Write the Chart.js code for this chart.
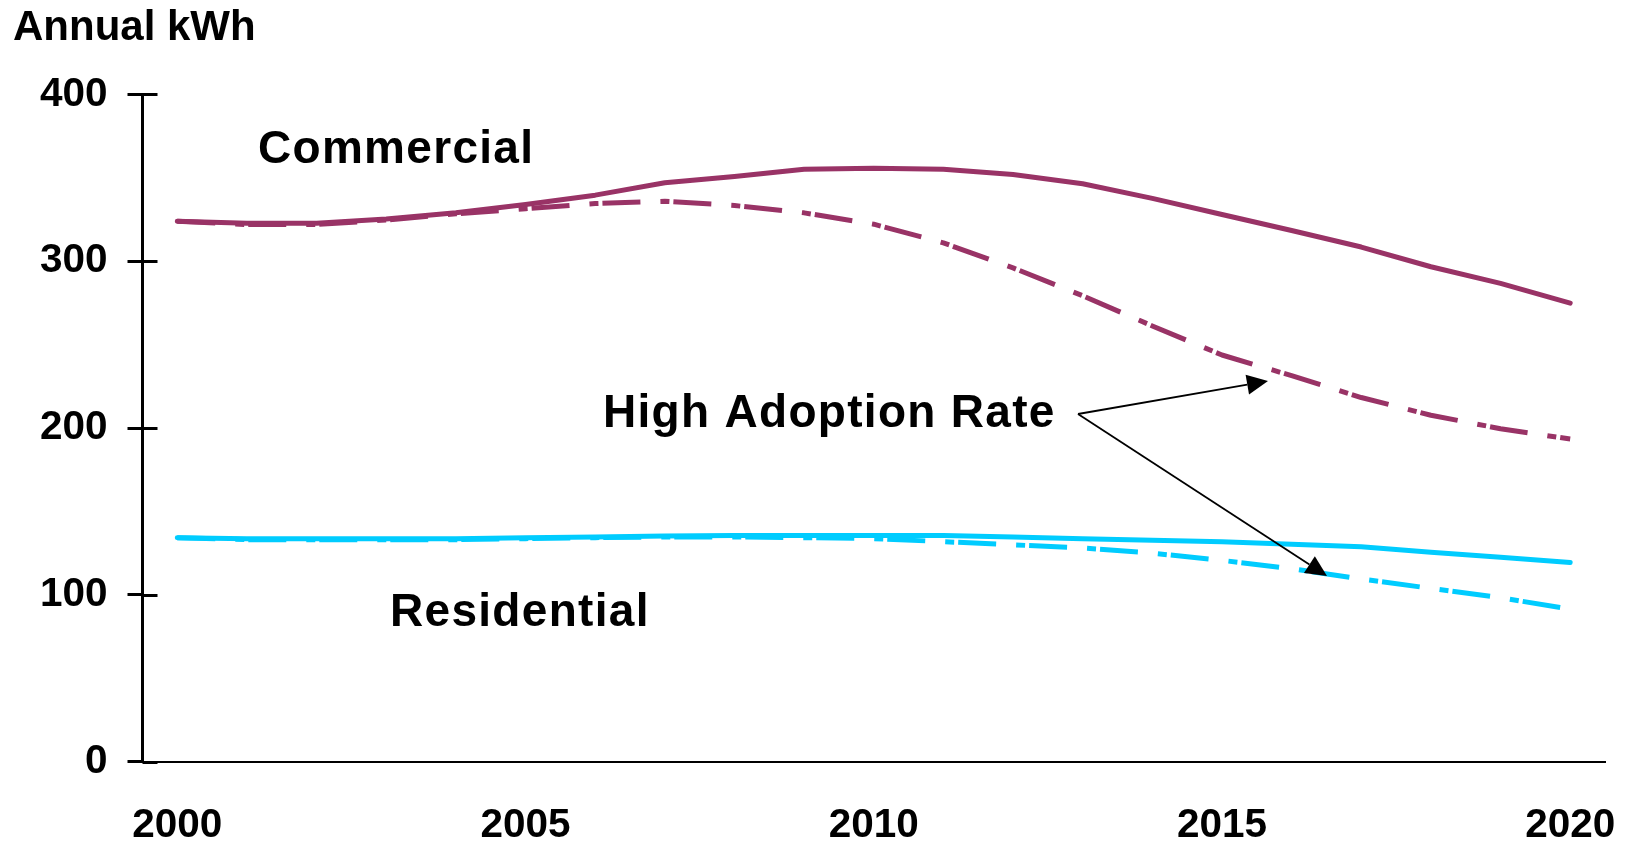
<!DOCTYPE html>
<html>
<head>
<meta charset="utf-8">
<script src="https://cdn.jsdelivr.net/npm/chart.js@4.4.1/dist/chart.umd.min.js"></script>
<style>
  html, body { margin: 0; padding: 0; background: #ffffff; }
  #wrap { width: 1627px; height: 846px; position: relative; }
</style>
</head>
<body>
<div id="wrap"><canvas id="kwhChart"></canvas></div>
<script>
// ---- data ----
const years = ['2000','2001','2002','2003','2004','2005','2006','2007','2008','2009','2010',
               '2011','2012','2013','2014','2015','2016','2017','2018','2019','2020'];
const yearLabels = ['2000','2005','2010','2015','2020'];
const kwhTicks = [0, 100, 200, 300, 400];

const commercialBase = [324, 322.8, 322.8, 325.3, 329, 334, 339.6, 347, 350.8, 355.1, 355.8,
                        355.1, 352, 346.4, 337.7, 328, 318.4, 308.5, 296.7, 286.7, 274.9];
const commercialHigh = [324, 322, 322, 324.7, 328.4, 331.5, 334.6, 335.9, 333.4, 329, 322.2,
                        311, 296, 279.3, 261.2, 243.8, 231.4, 218.3, 207.7, 199.6, 193.4];
const residentialBase = [134.3, 133.7, 133.7, 133.7, 133.7, 134.3, 134.7, 135.3, 135.6, 135.6, 135.6,
                         135.6, 134.7, 133.7, 132.8, 131.9, 130.3, 128.8, 125.6, 122.5, 119.4];
const residentialHigh = [134.3, 133.1, 133.1, 133.1, 133.1, 133.7, 134.3, 134.7, 134.7, 134.3, 133.7,
                         131.9, 130, 128.1, 125, 120.7, 115.7, 109.5, 103.9, 98.3, 91.4];

const PLUM = '#993366';
const CYAN = '#00CCFF';
const FONT = "'Liberation Sans', Arial, Helvetica, sans-serif";
const DASH_DOT = [38, 20, 9, 4];

// inner half of the y tick marks, call-out labels and arrows
const overlay = {
  id: 'overlay',
  afterDraw(chart) {
    const { ctx, chartArea, scales: { y } } = chart;
    ctx.save();
    ctx.strokeStyle = '#000';
    ctx.lineWidth = 3;
    kwhTicks.forEach(v => {
      const py = Math.round(y.getPixelForValue(v)) + 0.5;
      ctx.beginPath();
      ctx.moveTo(chartArea.left, py);
      ctx.lineTo(chartArea.left + 15, py);
      ctx.stroke();
    });

    ctx.fillStyle = '#000';
    ctx.font = 'bold 46px ' + FONT;
    ctx.letterSpacing = '1.3px';
    ctx.textBaseline = 'alphabetic';
    ctx.textAlign = 'left';
    ctx.fillText('Commercial', 258, 163);
    ctx.fillText('High Adoption Rate', 603, 427);
    ctx.fillText('Residential', 390, 626);
    ctx.letterSpacing = '0px';

    const from = [1078, 414];
    arrow(ctx, from, [1268, 381]);
    arrow(ctx, from, [1327, 576]);
    ctx.restore();
  }
};

function arrow(ctx, a, b) {
  const ang = Math.atan2(b[1] - a[1], b[0] - a[0]);
  const len = 21, half = 10;
  const bx = b[0] - len * Math.cos(ang), by = b[1] - len * Math.sin(ang);
  ctx.strokeStyle = '#000';
  ctx.lineWidth = 1.8;
  ctx.beginPath();
  ctx.moveTo(a[0], a[1]);
  ctx.lineTo(bx, by);
  ctx.stroke();
  ctx.beginPath();
  ctx.moveTo(b[0], b[1]);
  ctx.lineTo(bx + half * Math.sin(ang), by - half * Math.cos(ang));
  ctx.lineTo(bx - half * Math.sin(ang), by + half * Math.cos(ang));
  ctx.closePath();
  ctx.fill();
}

function series(data, color, dashed) {
  return {
    data,
    borderColor: color,
    backgroundColor: color,
    borderWidth: 5,
    borderDash: dashed ? DASH_DOT : [],
    borderCapStyle: dashed ? 'butt' : 'round',
    borderJoinStyle: 'round',
    pointRadius: 0,
    tension: 0,
    fill: false
  };
}

new Chart(document.getElementById('kwhChart'), {
  type: 'line',
  data: {
    labels: years,
    datasets: [
      series(commercialHigh, PLUM, true),
      series(commercialBase, PLUM, false),
      series(residentialHigh, CYAN, true),
      series(residentialBase, CYAN, false)
    ]
  },
  options: {
    responsive: true,
    maintainAspectRatio: false,
    animation: false,
    events: [],
    layout: { padding: { left: 13, right: 22, top: 0, bottom: 0 } },
    plugins: {
      legend: { display: false },
      tooltip: { enabled: false },
      title: {
        display: true,
        text: 'Annual kWh',
        align: 'start',
        color: '#000',
        font: { family: FONT, size: 42, weight: 'bold' },
        padding: { top: 3, bottom: 41 }
      }
    },
    scales: {
      x: {
        type: 'category',
        offset: true,
        grid: { display: false, drawTicks: false },
        border: { display: true, color: '#000', width: 2 },
        ticks: {
          autoSkip: false,
          maxRotation: 0,
          padding: 40,
          color: '#000',
          font: { family: FONT, size: 40.5, weight: 'bold' },
          callback: (v, i) => yearLabels.includes(years[i]) ? years[i] : ''
        },
        afterFit: s => { s.height = 84.3; s.paddingLeft = 0; s.paddingRight = 0; }
      },
      y: {
        min: 0,
        max: 400,
        grid: { drawOnChartArea: false, drawTicks: true, tickLength: 15, color: '#000', lineWidth: 3 },
        border: { display: true, color: '#000', width: 3 },
        ticks: {
          stepSize: 100,
          padding: 20,
          color: '#000',
          font: { family: FONT, size: 40.5, weight: 'bold' }
        },
        afterBuildTicks: s => { s.ticks = kwhTicks.map(v => ({ value: v })); },
        afterFit: s => { s.width = 129.5; s.paddingTop = 0; s.paddingBottom = 0; }
      }
    }
  },
  plugins: [overlay]
});
</script>
</body>
</html>
